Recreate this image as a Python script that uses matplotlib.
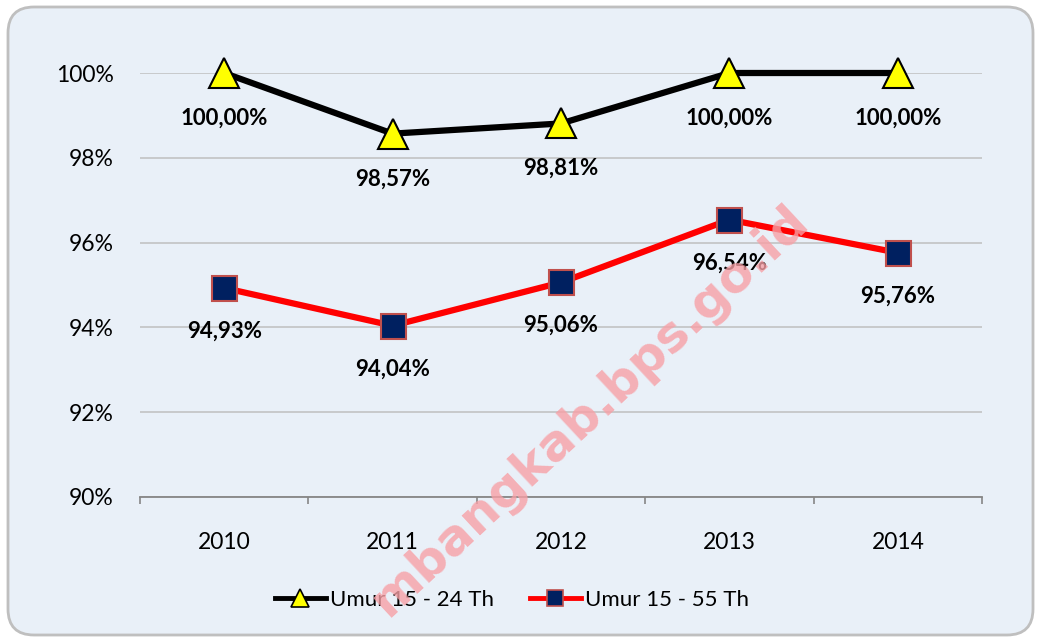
import matplotlib.pyplot as plt
from matplotlib.patches import FancyBboxPatch
from matplotlib.lines import Line2D
from matplotlib.transforms import IdentityTransform

years = ['2010', '2011', '2012', '2013', '2014']
umur_15_24 = [100.00, 98.57, 98.81, 100.00, 100.00]
umur_15_55 = [94.93, 94.04, 95.06, 96.54, 95.76]
label_15_24 = ['100,00%', '98,57%', '98,81%', '100,00%', '100,00%']
label_15_55 = ['94,93%', '94,04%', '95,06%', '96,54%', '95,76%']
y_ticks = [90, 92, 94, 96, 98, 100]

plt.rcParams['font.family'] = ['Lato', 'DejaVu Sans']

fig = plt.figure(figsize=(10.39, 6.37), dpi=100)
fig.patch.set_facecolor('white')

# rounded light-blue chart background
bg = FancyBboxPatch((8, 2), 1025, 628, boxstyle='round,pad=0,rounding_size=26',
                    facecolor='#E9F0F8', edgecolor='#BFBFBF', linewidth=2,
                    transform=IdentityTransform(), zorder=-1)
fig.add_artist(bg)

ax = fig.add_axes([0.1347, 0.2198, 0.8105, 0.6656])
ax.set_facecolor('none')

x = list(range(len(years)))
ax.plot(x, umur_15_24, color='black', lw=4.5, marker='^', markersize=21,
        markerfacecolor='#FFFF00', markeredgecolor='black', markeredgewidth=1.5,
        zorder=3, clip_on=False)
ax.plot(x, umur_15_55, color='#FF0000', lw=4.5, marker='s', markersize=18,
        markerfacecolor='#002060', markeredgecolor='#C0504D', markeredgewidth=1.5,
        zorder=3, clip_on=False)

for xi, v, t in zip(x, umur_15_24, label_15_24):
    ax.annotate(t, (xi, v), xytext=(0, -32.5), textcoords='offset points',
                ha='center', va='center', fontsize=16, fontweight='bold', zorder=4)
for xi, v, t in zip(x, umur_15_55, label_15_55):
    ax.annotate(t, (xi, v), xytext=(0, -31), textcoords='offset points',
                ha='center', va='center', fontsize=16, fontweight='bold', zorder=4)

ax.set_xlim(-0.5, len(years) - 0.5)
ax.set_ylim(90, 100)
ax.set_yticks(y_ticks)
ax.set_yticklabels(['%d%%' % t for t in y_ticks], fontsize=16.5)
ax.set_xticks(x)
ax.set_xticklabels(years, fontsize=16.5)
ax.set_xticks([i - 0.5 for i in range(len(years) + 1)], minor=True)
ax.tick_params(axis='x', which='major', length=0, pad=25)
ax.tick_params(axis='x', which='minor', length=5, width=1.2, color='#868686', direction='out')
ax.tick_params(axis='y', length=0, pad=19)

ax.grid(axis='y', color='#BFBFBF', lw=1.1)
ax.set_axisbelow(True)
for s in ['top', 'right', 'left']:
    ax.spines[s].set_visible(False)
ax.spines['bottom'].set_color('#868686')
ax.spines['bottom'].set_linewidth(1.3)

handles = [
    Line2D([], [], color='black', lw=3.5, marker='^', markersize=13,
           markerfacecolor='#FFFF00', markeredgecolor='black', markeredgewidth=1.2),
    Line2D([], [], color='#FF0000', lw=3.5, marker='s', markersize=11,
           markerfacecolor='#002060', markeredgecolor='#C0504D', markeredgewidth=1.2),
]
fig.legend(handles, ['Umur 15 - 24 Th', 'Umur 15 - 55 Th'], loc='center',
           bbox_to_anchor=(512 / 1039, 1 - 600 / 637), ncol=2, frameon=False,
           fontsize=16, handlelength=2.3, handletextpad=0.2, columnspacing=1.6)

# watermark
fig.text(590 / 1039, 1 - 410 / 637, 'mbangkab.bps.go.id', rotation=43,
         ha='center', va='center', fontsize=36, fontweight='bold',
         family='DejaVu Sans', color='#F7A0A6', alpha=0.8, zorder=10)

fig.savefig('out.png', dpi=100)
